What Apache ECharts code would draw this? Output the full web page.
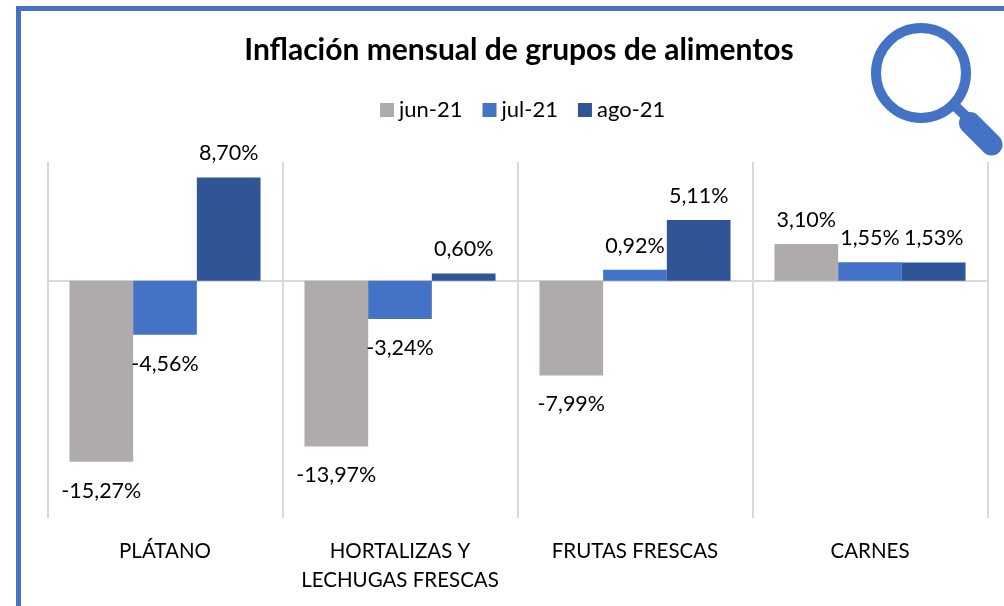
<!DOCTYPE html>
<html>
<head>
<meta charset="utf-8">
<style>
html, body { margin: 0; padding: 0; background: #fff; }
#chart { width: 1004px; height: 606px; }
</style>
<script src="https://cdn.jsdelivr.net/npm/echarts@6/dist/echarts.min.js"></script>
</head>
<body>
<div id="chart"></div>
<script>
var categories = ['PLÁTANO', 'HORTALIZAS Y\nLECHUGAS FRESCAS', 'FRUTAS FRESCAS', 'CARNES'];
var seriesNames = ['jun-21', 'jul-21', 'ago-21'];
var jun21 = [-15.27, -13.97, -7.99, 3.10];
var jul21 = [-4.56, -3.24, 0.92, 1.55];
var ago21 = [8.70, 0.60, 5.11, 1.53];
var colors = ['#AFABAB', '#4472C4', '#2F5597'];

var fontName = 'Lato';
var myChart = echarts.init(document.getElementById('chart'));

function makeSeries(name, values, color) {
	return {
		name: name,
		type: 'bar',
		data: values,
		barGap: 0,
		barCategoryGap: '18.7%',
		itemStyle: { color: color },
		label: {
			show: true,
			color: '#000',
			fontFamily: fontName,
			fontSize: 21.5,
			formatter: function(p) {
				return p.value.toFixed(2).replace('.', ',') + '%';
			},
			position: 'top',
			distance: 13
		},
		labelLayout: function(p) {
			// negative values sit lower than the positive ones
			if (values[p.dataIndex] < 0) {
				return { y: p.rect.y + p.rect.height + 29, align: 'center', verticalAlign: 'middle' };
			}
		}
	};
}

myChart.setOption({
	animation: false,
	title: {
		text: 'Inflación mensual de grupos de alimentos',
		left: 514,
		top: 30,
		textAlign: 'center',
		textStyle: { fontFamily: fontName, fontSize: 30, fontWeight: 'bold', color: '#000' }
	},
	legend: {
		data: seriesNames,
		top: 94,
		left: 375,
		icon: 'rect',
		itemWidth: 14,
		itemHeight: 14,
		itemGap: 20,
		textStyle: { fontFamily: fontName, fontSize: 22, color: '#000' }
	},
	grid: { left: 47.5, top: 162, width: 940, height: 356 },
	xAxis: [{
		type: 'category',
		data: categories,
		axisLine: { onZero: true, lineStyle: { color: '#D9D9D9', width: 2 } },
		axisTick: { show: false },
		axisLabel: { show: false }
	}, {
		type: 'category',
		data: categories,
		position: 'bottom',
		axisLine: { show: false, onZero: false },
		axisTick: { show: false },
		axisLabel: {
			show: true,
			color: '#000',
			fontFamily: fontName,
			fontSize: 20.5,
			lineHeight: 29,
			margin: 19,
			interval: 0
		},
		splitLine: { show: true, interval: 0, lineStyle: { color: '#D9D9D9', width: 2 } }
	}],
	yAxis: { type: 'value', min: -20, max: 10, interval: 5, show: false },
	series: [
		makeSeries(seriesNames[0], jun21, colors[0]),
		makeSeries(seriesNames[1], jul21, colors[1]),
		makeSeries(seriesNames[2], ago21, colors[2]),
		{ type: 'bar', xAxisIndex: 1, data: [], silent: true }
	],
	graphic: [
		{ type: 'polyline', silent: true, shape: { points: [[18.5, 606], [18.5, 8.5], [1004, 8.5]] }, style: { fill: 'none', stroke: '#4472C4', lineWidth: 5 } },
		{ type: 'circle', silent: true, shape: { cx: 921, cy: 73, r: 45 }, style: { fill: 'none', stroke: '#4472C4', lineWidth: 10 } },
		{ type: 'line', silent: true, shape: { x1: 955, y1: 106, x2: 972, y2: 122 }, style: { stroke: '#4472C4', lineWidth: 10 } },
		{ type: 'line', silent: true, shape: { x1: 970, y1: 123, x2: 991.5, y2: 144.5 }, style: { stroke: '#4472C4', lineWidth: 22, lineCap: 'round' } }
	]
});
</script>
</body>
</html>
